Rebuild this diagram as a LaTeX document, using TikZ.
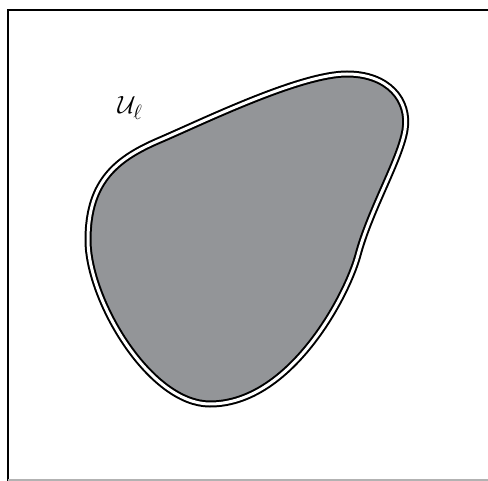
\documentclass[tikz,border=0pt]{standalone}
\usepackage{amsmath}
\usepackage{amssymb}

\begin{document}
\begin{tikzpicture}[
    x=1pt, y=-1pt,
    frameline/.style={line width=1.2pt},
    region/.style={fill={rgb,255:red,147;green,149;blue,152}, draw=black, line width=2pt, double=white, double distance=3pt},
    lbl/.style={font=\fontsize{28}{32}\selectfont}
  ]
    \useasboundingbox (0,0) rectangle (488,481);
    \draw[frameline] (8,481) -- (8,10) -- (488,10);
    \draw[frameline, black!30] (8,480) -- (488,480);
    \draw[region] (347,74) .. controls (388,74) and (410,100) .. (405,130)
      .. controls (400,160) and (370,210) .. (358,255)
      .. controls (347,296) and (290,404) .. (210,404)
      .. controls (150,404) and (88,300) .. (88,240)
      .. controls (88,180) and (118,158) .. (160,140)
      .. controls (202,122) and (300,74) .. cycle;
    \node[lbl] (ul) at (130,108) {$\mathcal{U}_\ell$};
  \end{tikzpicture}
\end{document}
